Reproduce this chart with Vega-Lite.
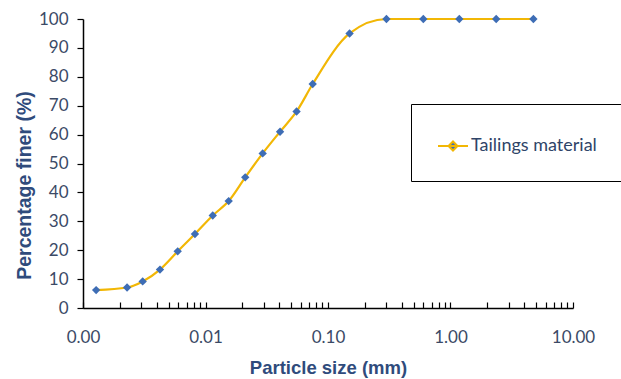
{
  "$schema": "https://vega.github.io/schema/vega-lite/v6.json",
  "width": 490,
  "height": 289,
  "autosize": {"type": "none"},
  "padding": {"left": 83, "top": 19, "right": 48, "bottom": 71},
  "background": "white",
  "config": {
    "view": {"stroke": null},
    "axis": {"grid": false, "domainColor": "black", "tickColor": "black", "domainWidth": 1.5, "tickWidth": 1.2,
      "labelFont": "Lato", "labelFontSize": 17, "labelColor": "#3B4A66",
      "titleFont": "Liberation Sans", "titleFontSize": 18.5, "titleFontWeight": "bold", "titleColor": "#2F4B7C"}
  },
  "data": {"values": [
    {"size": 0.00128, "finer": 6.2, "series": "Tailings material"},
    {"size": 0.00229, "finer": 7.1, "series": "Tailings material"},
    {"size": 0.00307, "finer": 9.2, "series": "Tailings material"},
    {"size": 0.00425, "finer": 13.3, "series": "Tailings material"},
    {"size": 0.00593, "finer": 19.6, "series": "Tailings material"},
    {"size": 0.0082, "finer": 25.6, "series": "Tailings material"},
    {"size": 0.01146, "finer": 32.0, "series": "Tailings material"},
    {"size": 0.01546, "finer": 37.0, "series": "Tailings material"},
    {"size": 0.0211, "finer": 45.2, "series": "Tailings material"},
    {"size": 0.0293, "finer": 53.5, "series": "Tailings material"},
    {"size": 0.0406, "finer": 61.0, "series": "Tailings material"},
    {"size": 0.0554, "finer": 68.0, "series": "Tailings material"},
    {"size": 0.075, "finer": 77.5, "series": "Tailings material"},
    {"size": 0.15, "finer": 95.0, "series": "Tailings material"},
    {"size": 0.3, "finer": 100, "series": "Tailings material"},
    {"size": 0.6, "finer": 100, "series": "Tailings material"},
    {"size": 1.18, "finer": 100, "series": "Tailings material"},
    {"size": 2.36, "finer": 100, "series": "Tailings material"},
    {"size": 4.75, "finer": 100, "series": "Tailings material"}
  ]},
  "encoding": {
    "x": {"field": "size", "type": "quantitative",
      "scale": {"type": "log", "domain": [0.001, 10], "nice": false},
      "axis": {"title": "Particle size (mm)", "format": ".2f",
        "values": [0.001,0.002,0.003,0.004,0.005,0.006,0.007,0.008,0.009,0.01,0.02,0.03,0.04,0.05,0.06,0.07,0.08,0.09,0.1,0.2,0.3,0.4,0.5,0.6,0.7,0.8,0.9,1,2,3,4,5,6,7,8,9,10],
        "labelExpr": "abs(log(datum.value)/LN10 - round(log(datum.value)/LN10)) < 0.001 ? datum.label : ''",
        "tickSize": -6, "labelPadding": 27, "titlePadding": 13, "labelOverlap": false, "labelFlush": false}},
    "y": {"field": "finer", "type": "quantitative",
      "scale": {"domain": [0, 100], "nice": false},
      "axis": {"title": "Percentage finer (%)", "titleFontSize": 19.5, "values": [0,10,20,30,40,50,60,70,80,90,100],
        "tickSize": 6, "labelPadding": 9, "titlePadding": 4, "titleY": 166}}
  },
  "layer": [
    {"mark": {"type": "line", "interpolate": "monotone", "color": "#F2B705", "strokeWidth": 2.2}},
    {"mark": {"type": "point", "shape": "diamond", "filled": true, "size": 70, "opacity": 1},
     "encoding": {"color": {"field": "series", "type": "nominal", "scale": {"range": ["#3E6DB5"]},
       "legend": {"title": null, "orient": "none", "legendX": 328, "legendY": 85,
         "symbolType": "M-1,0H1M0,-0.3L0.3,0L0,0.3L-0.3,0Z", "symbolSize": 900, "symbolStrokeColor": "#F2B705",
         "symbolStrokeWidth": 2, "symbolFillColor": "#3E6DB5",
         "padding": 26, "strokeColor": "black", "labelFont": "Lato", "labelFontSize": 18, "labelColor": "#2F4468",
         "labelOffset": 2, "labelLimit": 300}}}}
  ]
}
